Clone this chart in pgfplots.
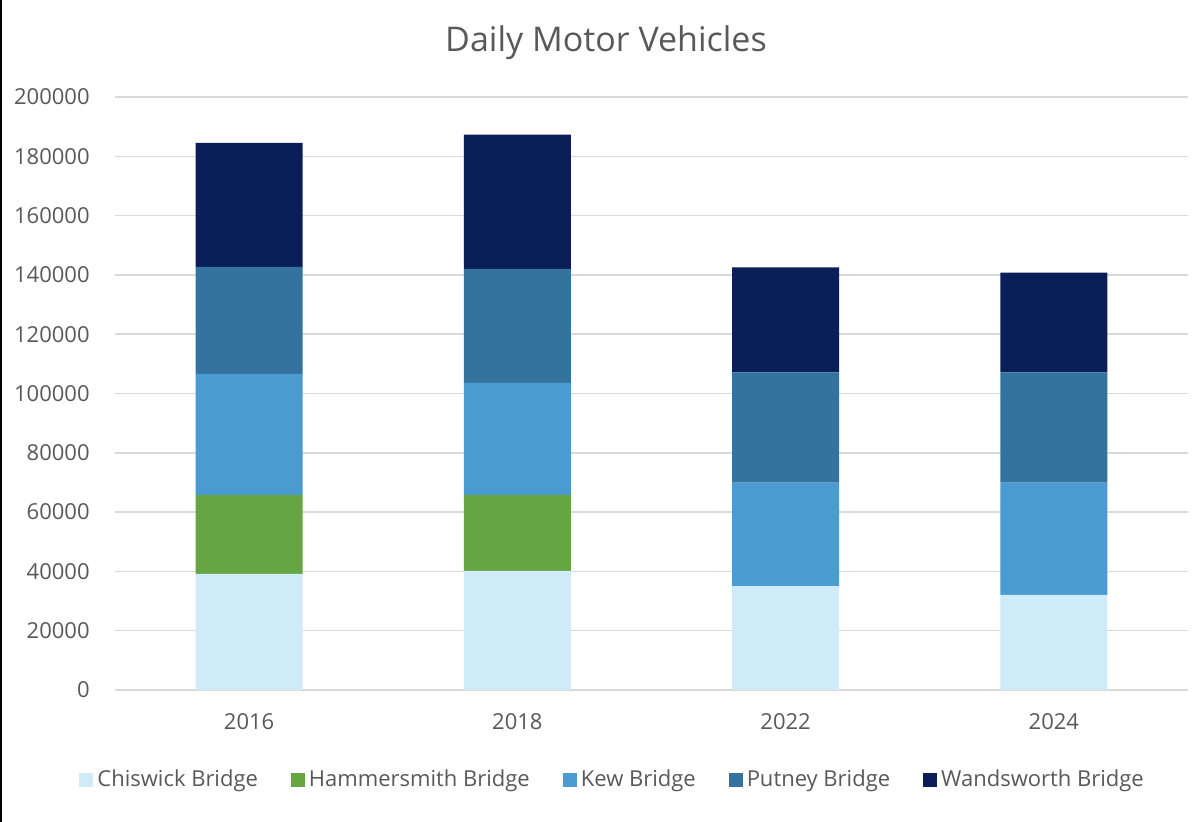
\documentclass[border=0pt]{standalone}
\usepackage{pgfplots}
\pgfplotsset{compat=1.18}
\usepackage{fontspec}
\setmainfont{Open Sans}
\definecolor{cChis}{RGB}{208,235,248}
\definecolor{cHam}{RGB}{101,165,66}
\definecolor{cKew}{RGB}{73,155,209}
\definecolor{cPut}{RGB}{51,115,158}
\definecolor{cWan}{RGB}{10,30,88}
\definecolor{txt}{RGB}{89,89,89}
\definecolor{gridc}{RGB}{217,217,217}
\begin{document}
\begin{tikzpicture}
\useasboundingbox (-57.5pt,-66pt) rectangle (542.5pt,345pt);
\fill[white] (-57.5pt,-66pt) rectangle (542.5pt,345pt);
\draw[black, line width=1pt] (-57pt,-66pt) -- (-57pt,345pt);
\begin{axis}[
  scale only axis,
  width=536.5pt, height=296.5pt,
  ybar stacked,
  bar width=53.5pt,
  xmin=-0.5, xmax=3.5,
  ymin=0, ymax=200000,
  xtick=data,
  xticklabels={2016,2018,2022,2024},
  ytick={0,20000,...,200000},
  scaled y ticks=false,
  /pgf/number format/assume math mode=true,
  yticklabel={\pgfmathprintnumber[fixed,use comma=false,1000 sep={}]{\tick}},
  axis line style={draw=none},
  tick style={draw=none},
  xmajorgrids=false,
  ymajorgrids=true,
  y grid style={draw=gridc, line width=0.75pt},
  yticklabel style={anchor=east, inner sep=0pt, xshift=-12.5pt, font=\fontsize{11}{13}\selectfont, text=txt},
  xticklabel style={anchor=center, inner sep=0pt, yshift=-16pt, font=\fontsize{11}{13}\selectfont, text=txt},
  title={Daily Motor Vehicles},
  title style={at={(0.4576,1.0707)}, anchor=center, inner sep=0pt, font=\fontsize{17}{20}\selectfont, text=txt},
  legend columns=-1,
  legend style={at={(0.4647,-0.152)}, anchor=center, draw=none, fill=none,
    font=\fontsize{11}{13}\selectfont, text=txt, inner sep=0pt,
    /tikz/every even column/.append style={column sep=14.5pt}},
  legend cell align=left,
  legend image code/.code={\fill[#1] (0pt,-3.5pt) rectangle (7pt,3.5pt);},
  every axis plot/.append style={draw=none},
  clip=false,
]
\addplot[fill=cChis] coordinates {(0,39200) (1,40200) (2,35000) (3,32100)};
\addplot[fill=cHam] coordinates {(0,26600) (1,25600) (2,0) (3,0)};
\addplot[fill=cKew] coordinates {(0,40800) (1,37800) (2,34900) (3,37800)};
\addplot[fill=cPut] coordinates {(0,36100) (1,38400) (2,37200) (3,37200)};
\addplot[fill=cWan] coordinates {(0,41800) (1,45300) (2,35400) (3,33700)};
\legend{Chiswick Bridge, Hammersmith Bridge, Kew Bridge, Putney Bridge, Wandsworth Bridge}
\end{axis}
\end{tikzpicture}
\end{document}
